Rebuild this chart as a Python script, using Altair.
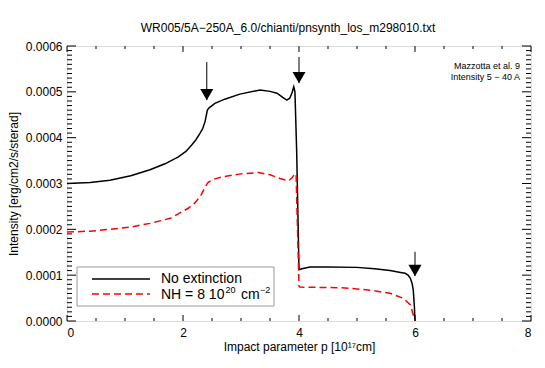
import altair as alt
import pandas as pd

# ---- data ----
x_black = [0.0, 0.4, 0.74, 1.1, 1.43, 1.69, 1.92, 2.05, 2.15, 2.22, 2.29, 2.34, 2.38,
           2.42, 2.45, 2.55, 2.72, 2.98, 3.33, 3.5, 3.62, 3.72, 3.79, 3.84, 3.88, 3.91,
           3.93, 3.96, 4.0, 4.05, 4.19, 4.5, 5.0, 5.3, 5.57, 5.75, 5.83, 5.88, 5.92,
           5.95, 5.97, 5.99, 6.0]
y_black = [0.000300, 0.000302, 0.000307, 0.000317, 0.000330, 0.000343, 0.000358,
           0.000370, 0.000384, 0.000395, 0.000409, 0.000420, 0.000435, 0.000460,
           0.000465, 0.000475, 0.000484, 0.000495, 0.000504, 0.000501, 0.000497,
           0.000488, 0.000482, 0.000486, 0.000498, 0.000511, 0.000500, 0.000370,
           0.000112, 0.000114, 0.000118, 0.000118, 0.000117, 0.000114, 0.000110,
           0.000106, 0.000104, 0.000100, 0.000093, 0.000082, 0.000068, 0.000030, 0.0]

x_red = [0.0, 0.4, 0.74, 1.1, 1.43, 1.78, 2.09, 2.2, 2.3, 2.38, 2.43, 2.52, 2.7, 3.0,
         3.3, 3.5, 3.67, 3.82, 3.88, 3.93, 3.95, 4.0, 4.02, 4.5, 4.71, 5.0, 5.28,
         5.57, 5.8, 5.92, 5.98, 6.0]
y_red = [0.000194, 0.000196, 0.000200, 0.000205, 0.000213, 0.000224, 0.000246,
         0.000257, 0.000272, 0.000292, 0.000302, 0.000309, 0.000315, 0.000321,
         0.000324, 0.000319, 0.000311, 0.000306, 0.000312, 0.000322, 0.000318,
         0.000076, 0.000074, 0.000073, 0.0000727, 0.000070, 0.0000662, 0.0000604,
         0.0000495, 0.0000349, 0.0000094, 0.0]

arrow_x = [2.41, 4.0, 6.0]
arrow_top = [0.000565, 0.000576, 0.000151]
arrow_tip = [0.000482, 0.000519, 0.0000982]

legend_labels = ["No extinction", "NH = 8 10", "20", "cm", "\u22122"]
note_lines = ["Mazzotta et al. 9", "Intensity 5 \u2212 40 A"]

title_text = "WR005/5A\u2212250A_6.0/chianti/pnsynth_los_m298010.txt"
x_title = "Impact parameter p [10\u00b9\u2077cm]"
y_title = "Intensity [erg/cm2/s/sterad]"

x_major = [0, 2, 4, 6, 8]
y_major = [0.0, 0.0001, 0.0002, 0.0003, 0.0004, 0.0005, 0.0006]
x_minor = [round(i * 0.5, 2) for i in range(17) if i % 4 != 0]
y_minor = [round(i * 0.00001, 6) for i in range(61) if i % 10 != 0]

W, H = 464, 275
FONT = "Liberation Sans"

df_black = pd.DataFrame({"x": x_black, "y": y_black})
df_red = pd.DataFrame({"x": x_red, "y": y_red})
df_arrow = pd.DataFrame({"x": arrow_x, "top": arrow_top, "tip": arrow_tip})

xs = alt.Scale(domain=[0, 8], nice=False, zero=False)
ys = alt.Scale(domain=[0, 0.0006], nice=False, zero=False)

# main black line carries the labelled axes
black = alt.Chart(df_black).mark_line(color="black", strokeWidth=1.5, clip=True).encode(
    x=alt.X("x:Q", scale=xs, axis=alt.Axis(orient="bottom", values=x_major, ticks=False,
            tickSize=0, domain=False, grid=False, format="d", labelFont=FONT,
            labelFontSize=12, labelColor="black", labelPadding=6, title=x_title,
            titleFont=FONT, titleFontSize=12, titleFontWeight="normal",
            titleColor="black", titlePadding=3)),
    y=alt.Y("y:Q", scale=ys, axis=alt.Axis(orient="left", values=y_major, ticks=False,
            tickSize=0, domain=False, grid=False, format=".4f", labelFont=FONT,
            labelFontSize=12, labelColor="black", labelPadding=5, title=y_title,
            titleFont=FONT, titleFontSize=12, titleFontWeight="normal",
            titleColor="black", titlePadding=5)),
    order="x:Q",
)

red = alt.Chart(df_red).mark_line(color="#ff0000", strokeWidth=1.5, strokeDash=[7, 4],
                                  clip=True).encode(
    x=alt.X("x:Q", scale=xs), y=alt.Y("y:Q", scale=ys), order="x:Q")

shafts = alt.Chart(df_arrow).mark_rule(color="black", strokeWidth=1).encode(
    x=alt.X("x:Q", scale=xs), y=alt.Y("top:Q", scale=ys), y2="tip:Q")

heads = alt.Chart(df_arrow).mark_point(shape="triangle-down", filled=True, color="black",
                                       opacity=1, size=170, yOffset=-5.5).encode(
    x=alt.X("x:Q", scale=xs), y=alt.Y("tip:Q", scale=ys))


# inward ticks on all four sides (IDL style box)
def xticks(vals, length):
    d = pd.DataFrame({"v": vals})
    bot = alt.Chart(d).mark_rule(color="black", strokeWidth=1).encode(
        x=alt.X("v:Q", scale=xs), y=alt.value(H), y2=alt.value(H - length))
    top = alt.Chart(d).mark_rule(color="black", strokeWidth=1).encode(
        x=alt.X("v:Q", scale=xs), y=alt.value(0), y2=alt.value(length))
    return [bot, top]


def yticks(vals, length):
    d = pd.DataFrame({"v": vals})
    left = alt.Chart(d).mark_rule(color="black", strokeWidth=1).encode(
        y=alt.Y("v:Q", scale=ys), x=alt.value(0), x2=alt.value(length))
    right = alt.Chart(d).mark_rule(color="black", strokeWidth=1).encode(
        y=alt.Y("v:Q", scale=ys), x=alt.value(W), x2=alt.value(W - length))
    return [left, right]


tick_layers = xticks(x_major, 6) + xticks(x_minor, 3) + yticks(y_major, 9) + yticks(y_minor, 5)

# manual legend
one = pd.DataFrame({"a": [0]})
leg_box = alt.Chart(one).mark_rect(fill="white", stroke="#9a9a9a", strokeWidth=1).encode(
    x=alt.value(10), x2=alt.value(207), y=alt.value(221), y2=alt.value(260))
leg_l1 = alt.Chart(one).mark_rule(color="black", strokeWidth=1.5).encode(
    x=alt.value(25), x2=alt.value(83), y=alt.value(233))
leg_l2 = alt.Chart(one).mark_rule(color="#ff0000", strokeWidth=1.5, strokeDash=[7, 4]).encode(
    x=alt.value(25), x2=alt.value(83), y=alt.value(248))


def txt(s, x, y, size, align="left"):
    return alt.Chart(pd.DataFrame({"t": [s]})).mark_text(
        align=align, baseline="middle", font=FONT, fontSize=size, color="black").encode(
        x=alt.value(x), y=alt.value(y), text="t:N")


leg_texts = [
    txt(legend_labels[0], 94, 232.5, 14),
    txt(legend_labels[1], 94, 249, 14),
    txt(legend_labels[2], 158.5, 243.5, 9),
    txt(legend_labels[3], 174, 249, 14),
    txt(legend_labels[4], 193, 243.5, 9),
]

notes = [txt(note_lines[0], 453, 20, 9, "right"), txt(note_lines[1], 453, 31, 9, "right")]

chart = alt.layer(
    black, red, shafts, heads, *tick_layers,
    leg_box, leg_l1, leg_l2, *leg_texts, *notes,
).properties(
    width=W, height=H,
    title=alt.TitleParams(title_text, font=FONT, fontSize=12, fontWeight="normal",
                          color="black", anchor="middle", offset=5, dx=-11),
    autosize=alt.AutoSizeParams(type="none"),
    padding={"left": 59, "top": 38, "right": 6, "bottom": 39},
).configure_view(stroke="black", strokeWidth=1).configure(background="white")

chart.save("out.html", embed_options={"renderer": "svg", "actions": False})
